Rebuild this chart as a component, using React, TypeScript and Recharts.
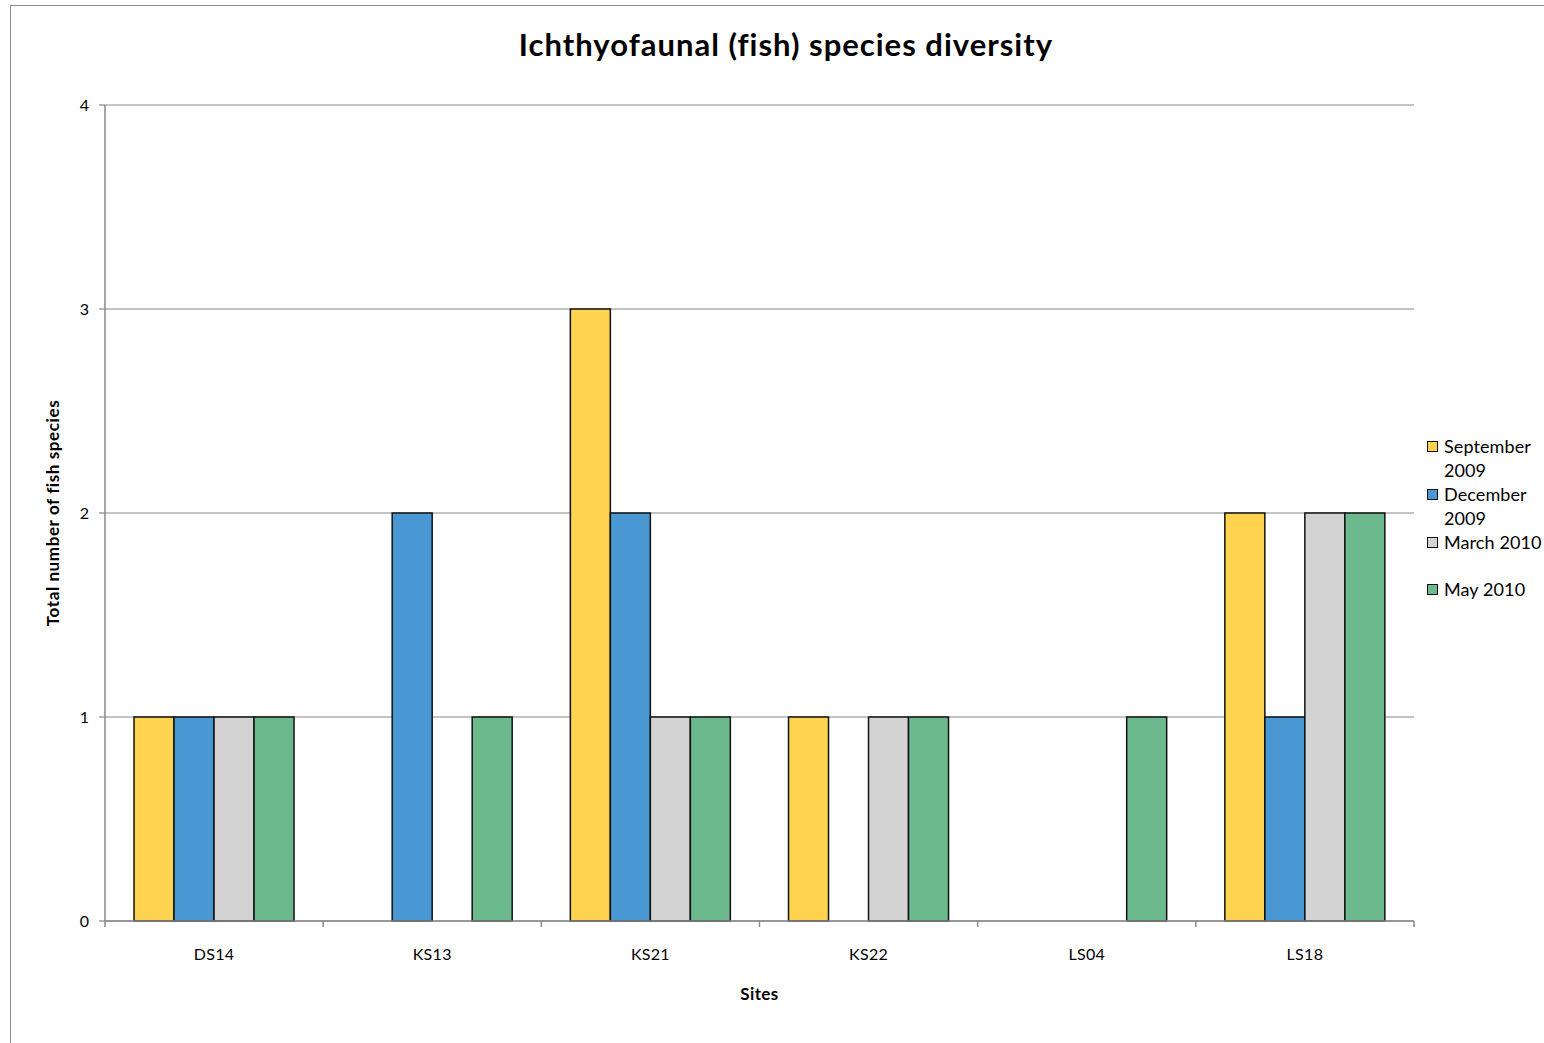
import React from 'react';
import { BarChart, Bar, XAxis, YAxis, CartesianGrid, Label } from 'recharts';

const sites = ['DS14', 'KS13', 'KS21', 'KS22', 'LS04', 'LS18'];
const sep2009 = [1, 0, 3, 1, 0, 2];
const dec2009 = [1, 2, 2, 0, 0, 1];
const mar2010 = [1, 0, 1, 1, 0, 2];
const may2010 = [1, 1, 1, 1, 1, 2];
const yTicks = [0, 1, 2, 3, 4];

const series = [
  { key: 'sep', name: ['September', '2009'], color: '#FFD24F' },
  { key: 'dec', name: ['December', '2009'], color: '#4A98D3' },
  { key: 'mar', name: ['March 2010'], color: '#D3D3D3' },
  { key: 'may', name: ['May 2010'], color: '#6CB98E' },
];

const data = sites.map((site, i) => ({
  site,
  sep: sep2009[i],
  dec: dec2009[i],
  mar: mar2010[i],
  may: may2010[i],
}));

const FONT = 'Lato, "Open Sans", sans-serif';
const GRID = '#898989';

// Category tick: label at band centre, plus Excel-style tick marks at band boundaries
const CatTick = (props: any) => {
  const { x, y, payload, width, visibleTicksCount, index } = props;
  const band = width / visibleTicksCount;
  const left = x - band / 2;
  const right = x + band / 2;
  return (
    <g>
      <line x1={left} x2={left} y1={y} y2={y + 6} stroke={GRID} strokeWidth={1.5} />
      {index === visibleTicksCount - 1 && (
        <line x1={right} x2={right} y1={y} y2={y + 6} stroke={GRID} strokeWidth={1.5} />
      )}
      <text x={x} y={y + 32} textAnchor="middle" dominantBaseline="central" fontSize={16} letterSpacing={0.3} fontFamily={FONT} fill="#000">
        {payload.value}
      </text>
    </g>
  );
};

export default function App() {
  const legendTops = [0, 48, 96, 143];
  return (
    <div style={{ position: 'absolute', left: 10, top: 5, width: 1540, height: 1045, border: '1.5px solid #8a8a8a', boxSizing: 'border-box', background: '#fff', fontFamily: FONT }}>
      <div style={{ position: 'absolute', left: 0, width: 1550, top: 19, textAlign: 'center', fontSize: 31, letterSpacing: 1.0, fontWeight: 700, color: '#000', fontFamily: FONT }}>
        Ichthyofaunal (fish) species diversity
      </div>
      <div style={{ position: 'absolute', left: -1, top: -1 }}>
        <BarChart
          width={1540}
          height={1045}
          data={data}
          margin={{ top: 100, right: 136, bottom: 59, left: 35 }}
          barCategoryGap="13.3%"
          barGap={0}
        >
          <CartesianGrid vertical={false} stroke={GRID} strokeWidth={1.2} />
          <XAxis
            dataKey="site"
            height={70}
            axisLine={{ stroke: GRID, strokeWidth: 1.5 }}
            tickLine={false}
            tickSize={0}
            tickMargin={0}
            tick={<CatTick />}
            interval={0}
          >
            <Label
              content={(p: any) => {
                const vb = p.viewBox;
                return (
                  <text x={vb.x + vb.width / 2} y={vb.y + 72} textAnchor="middle" dominantBaseline="central" fontSize={17} letterSpacing={0.4} fontWeight={700} fontFamily={FONT} fill="#000">
                    Sites
                  </text>
                );
              }}
            />
          </XAxis>
          <YAxis
            domain={[0, 4]}
            ticks={yTicks}
            width={60}
            axisLine={{ stroke: GRID, strokeWidth: 1.5 }}
            tickLine={{ stroke: GRID, strokeWidth: 1.2 }}
            tickSize={6}
            tickMargin={10}
            tick={{ fontSize: 16, fill: '#000', fontFamily: FONT }}
          >
            <Label
              content={(p: any) => {
                const vb = p.viewBox;
                const cx = vb.x + 7;
                const cy = vb.y + vb.height / 2;
                return (
                  <text x={cx} y={cy} transform={`rotate(-90, ${cx}, ${cy})`} textAnchor="middle" dominantBaseline="central" fontSize={17} letterSpacing={0.6} fontWeight={700} fontFamily={FONT} fill="#000">
                    Total number of fish species
                  </text>
                );
              }}
            />
          </YAxis>
          {series.map((s) => (
            <Bar key={s.key} dataKey={s.key} fill={s.color} stroke="#111" strokeWidth={1.5} isAnimationActive={false} />
          ))}
        </BarChart>
      </div>
      <div style={{ position: 'absolute', left: 1416, top: 428 }}>
        {series.map((s, i) => (
          <div key={s.key} style={{ position: 'absolute', left: 0, top: legendTops[i], width: 130 }}>
            <div style={{ position: 'absolute', left: 0, top: 7, width: 9, height: 9, background: s.color, border: '1px solid #111' }} />
            {s.name.map((line, j) => (
              <div key={j} style={{ position: 'absolute', left: 17, top: j * 24, fontSize: 18, letterSpacing: 0.1, lineHeight: '24px', whiteSpace: 'nowrap', color: '#000' }}>
                {line}
              </div>
            ))}
          </div>
        ))}
      </div>
    </div>
  );
}
